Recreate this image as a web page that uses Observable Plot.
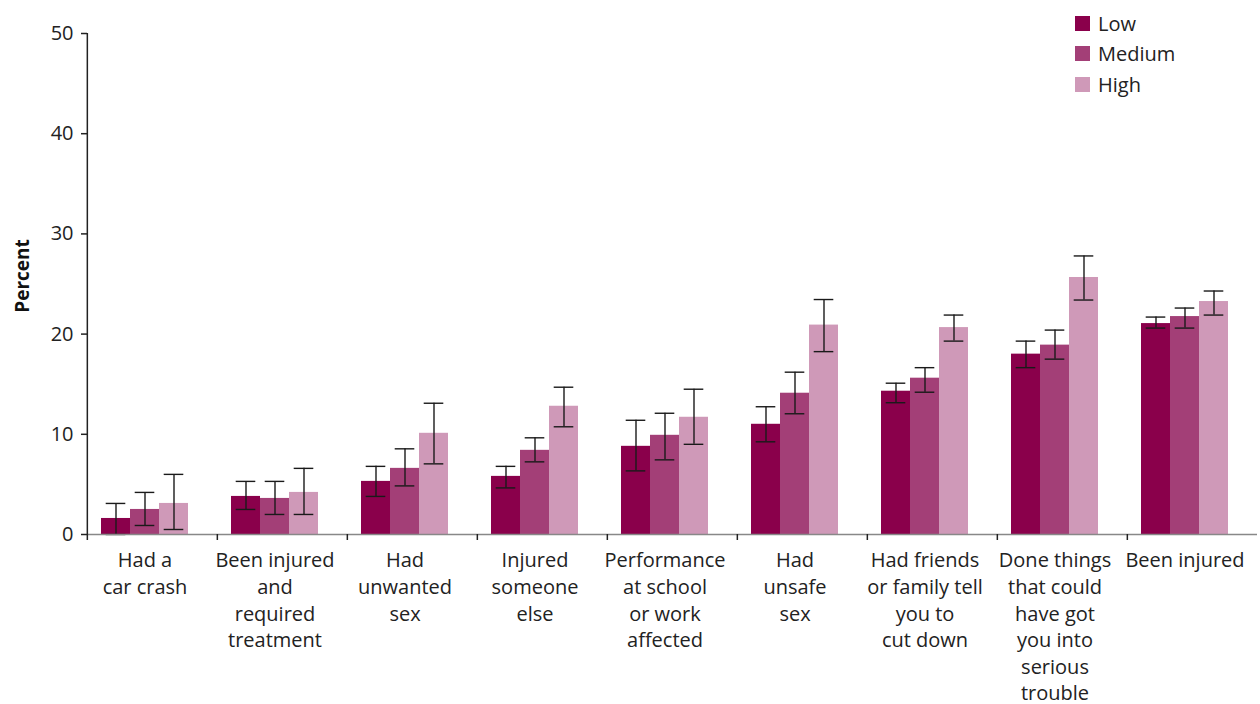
<!DOCTYPE html>
<html>
<head>
<meta charset="utf-8">
<script src="https://cdn.jsdelivr.net/npm/d3@7"></script>
<script src="https://cdn.jsdelivr.net/npm/@observablehq/plot@0.6"></script>
<style>
  html, body { margin: 0; padding: 0; background: #fff; }
  #wrap { position: relative; width: 1260px; height: 704px; font-family: "Open Sans", Lato, sans-serif; color: #222; }
  #legend { position: absolute; left: 1075px; top: 8px; font-size: 20px; }
  #legend .row { display: flex; align-items: center; height: 30.5px; }
  #legend .sw { width: 15px; height: 15px; margin-right: 8px; }
</style>
</head>
<body>
<div id="wrap"><div id="legend"></div></div>
<script>
const categories = [
  "Had a car crash",
  "Been injured and required treatment",
  "Had unwanted sex",
  "Injured someone else",
  "Performance at school or work affected",
  "Had unsafe sex",
  "Had friends or family tell you to cut down",
  "Done things that could have got you into serious trouble",
  "Been injured"
];
const tickLabels = [
  "Had a\ncar crash",
  "Been injured\nand\nrequired\ntreatment",
  "Had\nunwanted\nsex",
  "Injured\nsomeone\nelse",
  "Performance\nat school\nor work\naffected",
  "Had\nunsafe\nsex",
  "Had friends\nor family tell\nyou to\ncut down",
  "Done things\nthat could\nhave got\nyou into\nserious\ntrouble",
  "Been injured"
];
const levels = ["Low", "Medium", "High"];
const colors = ["#8a004b", "#a33f77", "#cf99b8"];

const low    = [1.6, 3.8, 5.3, 5.8, 8.8, 11.0, 14.3, 18.0, 21.05];
const lowLo  = [0.0, 2.5, 3.8, 4.65, 6.35, 9.25, 13.15, 16.65, 20.6];
const lowHi  = [3.1, 5.3, 6.8, 6.8, 11.4, 12.75, 15.1, 19.3, 21.7];
const med    = [2.5, 3.6, 6.6, 8.4, 9.9, 14.1, 15.6, 18.9, 21.75];
const medLo  = [0.9, 2.0, 4.85, 7.25, 7.45, 12.05, 14.2, 17.5, 20.6];
const medHi  = [4.2, 5.3, 8.55, 9.65, 12.1, 16.2, 16.65, 20.4, 22.6];
const high   = [3.1, 4.2, 10.1, 12.8, 11.7, 20.9, 20.65, 25.65, 23.25];
const highLo = [0.5, 2.0, 7.05, 10.75, 9.0, 18.25, 19.3, 23.4, 21.9];
const highHi = [6.0, 6.6, 13.1, 14.7, 14.5, 23.45, 21.9, 27.8, 24.3];
const yTicks = [0, 10, 20, 30, 40, 50];

const series = [
  {level: "Low", v: low, lo: lowLo, hi: lowHi},
  {level: "Medium", v: med, lo: medLo, hi: medHi},
  {level: "High", v: high, lo: highLo, hi: highHi}
];
const rows = [];
categories.forEach((cat, i) => {
  series.forEach(s => rows.push({cat, level: s.level, value: s.v[i], lo: s.lo[i], hi: s.hi[i]}));
});

const W = 1260, H = 704, ML = 85, MR = 2, MT = 33, MB = 170;
const bw = (W - ML - MR) / categories.length;
const FONT = "'Open Sans', Lato, sans-serif";

const chart = Plot.plot({
  width: W, height: H,
  marginLeft: ML, marginRight: MR, marginTop: MT, marginBottom: MB,
  style: {fontFamily: FONT, fontSize: "20px", color: "#222", background: "#fff", overflow: "visible"},
  fx: {domain: categories, paddingInner: 0, paddingOuter: 0, axis: null, label: null},
  x: {domain: [...levels, "_gap"], paddingInner: 0, paddingOuter: 0.22, align: 1, axis: null},
  y: {domain: [0, 50], axis: null},
  color: {domain: levels, range: colors},
  marks: [
    Plot.barY(rows, {fx: "cat", x: "level", y: "value", fill: "level"}),
    Plot.ruleX(rows, {fx: "cat", x: "level", y1: "lo", y2: "hi", stroke: "#1a1a1a", strokeWidth: 1.4}),
    Plot.tickY(rows, {fx: "cat", x: "level", y: "lo", stroke: "#1a1a1a", strokeWidth: 1.4, insetLeft: 4.7, insetRight: 4.7}),
    Plot.tickY(rows, {fx: "cat", x: "level", y: "hi", stroke: "#1a1a1a", strokeWidth: 1.4, insetLeft: 4.7, insetRight: 4.7}),
    Plot.ruleY([0], {stroke: "#888", strokeWidth: 1.6}),
    Plot.ruleX([categories[0]], {fx: d => d, x: null, y1: 0, y2: 50, dx: -bw / 2, stroke: "#222", strokeWidth: 1.5}),
    Plot.axisFx({anchor: "bottom", tickSize: 6, tickFormat: () => "", label: null, dx: -bw / 2, stroke: "#222", strokeWidth: 1.5}),
    Plot.axisY({ticks: yTicks, tickSize: 6, tickPadding: 8, stroke: "#222", strokeWidth: 1.5, fontSize: 20, label: null}),
    Plot.text(categories, {fx: d => d, x: () => "Medium", y: () => 0, text: (d, i) => tickLabels[i],
      lineAnchor: "top", dy: 14, lineHeight: 1.33, fontSize: 20, fill: "#222"}),
    Plot.text(["Percent"], {fx: () => categories[0], frameAnchor: "left", textAnchor: "middle", rotate: -90, dx: -65, dy: -8,
      fontWeight: "bold", fontSize: 19, fill: "#111"})
  ]
});
document.getElementById("wrap").prepend(chart);

const legend = document.getElementById("legend");
levels.forEach((l, i) => {
  const row = document.createElement("div");
  row.className = "row";
  const sw = document.createElement("div");
  sw.className = "sw";
  sw.style.background = colors[i];
  const tx = document.createElement("span");
  tx.textContent = l;
  row.append(sw, tx);
  legend.append(row);
});
</script>
</body>
</html>
